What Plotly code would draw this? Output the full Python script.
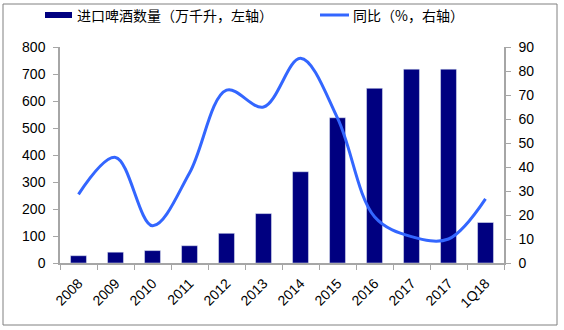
import plotly.graph_objects as go

# Imported beer volume (10k kilolitres) and YoY growth (%)
periods = ["2008", "2009", "2010", "2011", "2012", "2013", "2014",
           "2015", "2016", "2017", "2017", "1Q18"]
volume = [27, 40, 46, 64, 110, 183, 338, 538, 647, 718, 718, 150]
yoy = [28.6, 44.0, 15.5, 37.5, 72.0, 65.0, 85.3, 60.4, 19.3, 11.0, 10.0, 26.7]

bar_name = "进口啤酒数量（万千升，左轴）"
line_name = "同比（%，右轴）"

bar_color = "#000080"
line_color = "#3366FF"
axis_color = "#A6A6A6"
font_family = "Arial, Liberation Sans, sans-serif"
cjk_family = "Noto Sans CJK SC, sans-serif"

x = list(range(len(periods)))

fig = go.Figure()
fig.add_trace(go.Bar(x=x, y=volume, name=bar_name, marker_color=bar_color,
                     width=0.43, yaxis="y", showlegend=False))
fig.add_trace(go.Scatter(x=x, y=yoy, name=line_name, mode="lines",
                         line=dict(color=line_color, width=3, shape="spline", smoothing=1.0),
                         yaxis="y2", showlegend=False))

tick_font = dict(family=font_family, size=14, color="#000000")

fig.update_layout(
    width=564, height=330,
    margin=dict(l=60, r=60, t=47, b=67),
    paper_bgcolor="white", plot_bgcolor="white",
    xaxis=dict(
        range=[-0.5, len(periods) - 0.5],
        tickmode="array", tickvals=x, ticktext=periods,
        tickangle=-45, tickfont=tick_font, ticklabelstandoff=5,
        ticks="", showgrid=False, zeroline=False,
        showline=True, linecolor=axis_color, linewidth=1.5,
        minor=dict(tick0=-0.5, dtick=1, ticks="outside", ticklen=5,
                   tickcolor=axis_color, showgrid=False),
    ),
    yaxis=dict(
        range=[0, 800], dtick=100, tickfont=tick_font, ticklabelstandoff=5,
        ticks="outside", ticklen=5, tickcolor=axis_color,
        showline=True, linecolor=axis_color, linewidth=1.5,
        showgrid=False, zeroline=False,
    ),
    yaxis2=dict(
        range=[0, 90], dtick=10, tickfont=tick_font, ticklabelstandoff=5,
        overlaying="y", side="right",
        ticks="outside", ticklen=5, tickcolor=axis_color,
        showline=True, linecolor=axis_color, linewidth=1.5,
        showgrid=False, zeroline=False,
    ),
)

# Legend drawn as a header row: swatch + label for each series
fig.add_shape(type="rect", xref="paper", yref="paper",
              x0=(45 - 60) / 444, x1=(72 - 60) / 444,
              y0=(263 - 18) / 216, y1=(263 - 12) / 216,
              fillcolor=bar_color, line=dict(width=0))
fig.add_annotation(xref="paper", yref="paper", x=(75 - 60) / 444, y=(263 - 15) / 216,
                   text=bar_name, showarrow=False, xanchor="left", yanchor="middle",
                   font=dict(family=cjk_family, size=14, color="#000000"))
fig.add_shape(type="line", xref="paper", yref="paper",
              x0=(320 - 60) / 444, x1=(349 - 60) / 444,
              y0=(263 - 15) / 216, y1=(263 - 15) / 216,
              line=dict(color=line_color, width=3))
fig.add_annotation(xref="paper", yref="paper", x=(351 - 60) / 444, y=(263 - 15) / 216,
                   text=line_name, showarrow=False, xanchor="left", yanchor="middle",
                   font=dict(family=cjk_family, size=14, color="#000000"))

# Outer frame
fig.add_shape(type="rect", xref="paper", yref="paper",
              x0=(3 - 60) / 444, x1=(557 - 60) / 444,
              y0=(263 - 325) / 216, y1=(263 - 4) / 216,
              line=dict(color="#808080", width=1), fillcolor="rgba(0,0,0,0)")

fig.write_html("out.html")
